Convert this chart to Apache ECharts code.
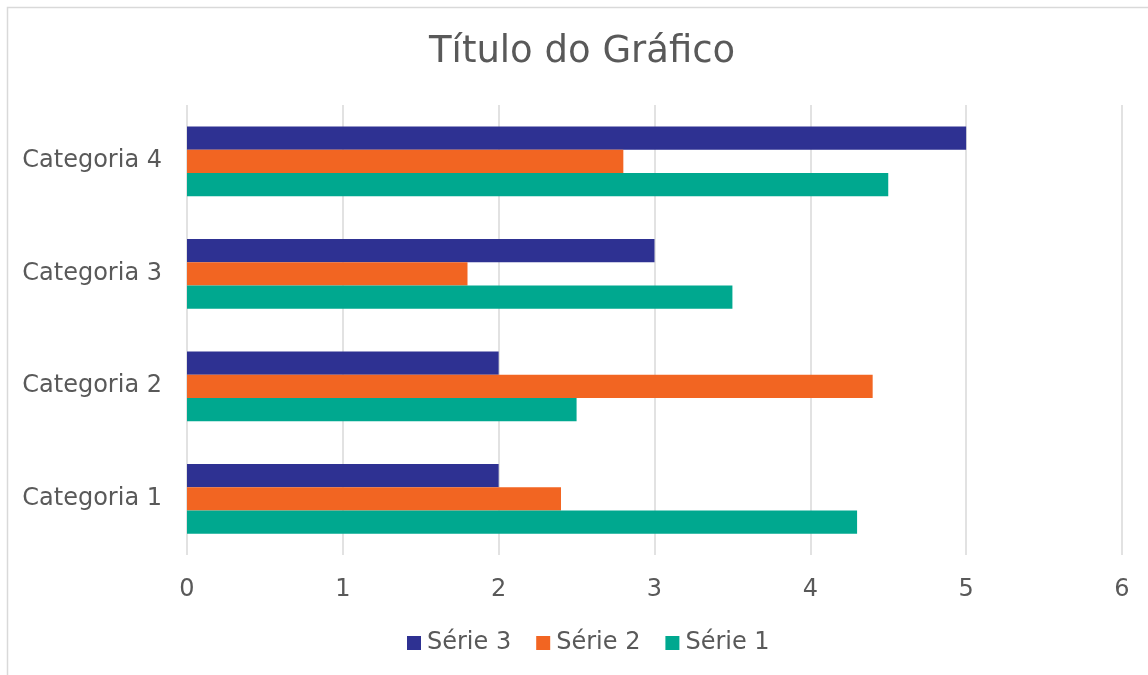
<!DOCTYPE html>
<html>
<head>
<meta charset="utf-8">
<script src="https://cdn.jsdelivr.net/npm/echarts@6/dist/echarts.min.js"></script>
<style>
  html, body { margin: 0; padding: 0; background: #fff; }
  #chart { width: 1148px; height: 675px; }
</style>
</head>
<body>
<div id="chart"></div>
<script>
// data
const categories = ['Categoria 1', 'Categoria 2', 'Categoria 3', 'Categoria 4'];
const serie1 = [4.3, 2.5, 3.5, 4.5];
const serie2 = [2.4, 4.4, 1.8, 2.8];
const serie3 = [2.0, 2.0, 3.0, 5.0];
const seriesNames = ['Série 3', 'Série 2', 'Série 1'];
const colors = ['#2e3192', '#f26522', '#00a88f'];

const FONT = '"DejaVu Sans", Verdana, sans-serif';
const chart = echarts.init(document.getElementById('chart'));

chart.setOption({
  animation: false,
  color: colors,
  textStyle: { fontFamily: FONT },
  title: {
    text: 'Título do Gráfico',
    left: 424,
    top: 29,
    textStyle: { fontFamily: FONT, fontSize: 37, fontWeight: 'normal', color: '#595959' }
  },
  graphic: [{
    type: 'rect',
    shape: { x: 7.5, y: 7.5, width: 1160, height: 700 },
    style: { fill: 'none', stroke: '#d9d9d9', lineWidth: 1.5 },
    silent: true
  }],
  legend: {
    top: 626,
    left: 402,
    itemWidth: 14,
    itemHeight: 14,
    itemGap: 25,
    icon: 'rect',
    textStyle: { fontFamily: FONT, fontSize: 24, color: '#595959', padding: [0, 0, 0, 1] }
  },
  grid: { left: 187, right: 26, top: 105, bottom: 120, containLabel: false },
  xAxis: {
    type: 'value',
    min: 0,
    max: 6,
    interval: 1,
    axisLine: { show: false },
    axisTick: { show: false },
    axisLabel: { fontFamily: FONT, fontSize: 24, color: '#595959', margin: 23 },
    splitLine: { lineStyle: { color: '#d9d9d9', width: 1.5 } }
  },
  yAxis: {
    type: 'category',
    data: categories,
    axisLine: { show: false },
    axisTick: { show: false },
    axisLabel: { fontFamily: FONT, fontSize: 24, color: '#595959', margin: 25 }
  },
  series: [serie3, serie2, serie1].map((d, i) => ({
    name: seriesNames[i],
    type: 'bar',
    data: d,
    barGap: '0%',
    barCategoryGap: '38%'
  }))
});
</script>
</body>
</html>
